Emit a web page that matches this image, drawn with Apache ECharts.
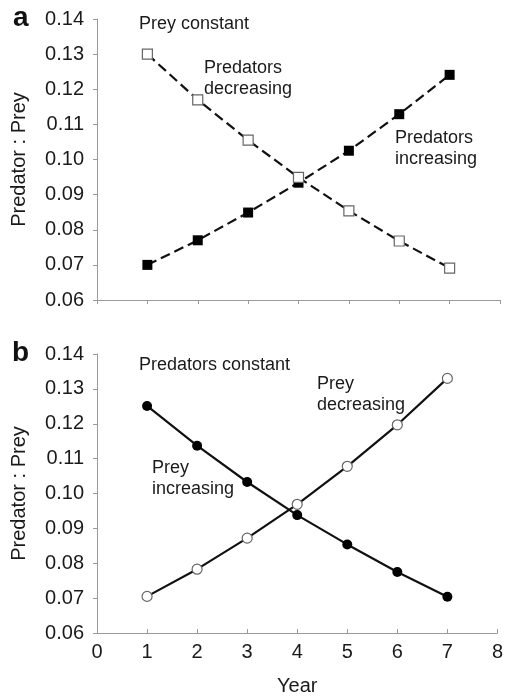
<!DOCTYPE html>
<html>
<head>
<meta charset="utf-8">
<script src="https://cdn.jsdelivr.net/npm/echarts@6/dist/echarts.min.js"></script>
<style>
html,body{margin:0;padding:0;background:#fff;}
#chart{width:506px;height:697px;}
</style>
</head>
<body>
<div id="chart"></div>
<script>
var years = [1, 2, 3, 4, 5, 6, 7];
// Panel a: prey constant
var predatorsDecreasing = [0.130, 0.117, 0.1055, 0.0949, 0.0854, 0.0768, 0.0691];
var predatorsIncreasing = [0.070, 0.077, 0.0849, 0.0934, 0.1025, 0.1129, 0.1241];
// Panel b: predators constant
var preyIncreasing = [0.1251, 0.1137, 0.1033, 0.0938, 0.0854, 0.0775, 0.0704];
var preyDecreasing = [0.0705, 0.0783, 0.0872, 0.0969, 0.1078, 0.1197, 0.1330];

var xTicks = [0, 1, 2, 3, 4, 5, 6, 7, 8];
var yTicks = ['0.06','0.07','0.08','0.09','0.10','0.11','0.12','0.13','0.14'];

function pairs(xs, ys){ return xs.map(function(x,i){ return [x, ys[i]]; }); }

var FONT = 'Liberation Sans, Arial, sans-serif';
var AX = '#9a9a9a';
var TXT = '#1a1a1a';

function xAxis(gridIndex, showLabels, tickInside){
  return {
    type:'value', gridIndex:gridIndex, min:xTicks[0], max:xTicks[xTicks.length-1], interval:1,
    axisLine:{show:true, lineStyle:{color:AX, width:1}},
    axisTick:{show:true, inside:tickInside, length:4, lineStyle:{color:AX}},
    splitLine:{show:false},
    axisLabel:{show:showLabels, color:TXT, fontSize:20, fontFamily:FONT, margin:9},
    name: showLabels ? 'Year' : '',
    nameLocation:'middle', nameGap:43,
    nameTextStyle:{color:TXT, fontSize:20, fontFamily:FONT}
  };
}
function yAxis(gridIndex){
  return {
    type:'value', gridIndex:gridIndex, min:0.06, max:0.14, interval:0.01,
    axisLine:{show:true, lineStyle:{color:AX, width:1}},
    axisTick:{show:true, inside:false, length:4, lineStyle:{color:AX}},
    splitLine:{show:false},
    axisLabel:{color:TXT, fontSize:20, fontFamily:FONT, margin:13,
      formatter:function(v){ var s=v.toFixed(2); return yTicks.indexOf(s)>=0 ? s : ''; }},
    name:'Predator : Prey', nameLocation:'middle', nameGap:68,
    nameTextStyle:{color:TXT, fontSize:20, fontFamily:FONT}
  };
}

var chart = echarts.init(document.getElementById('chart'), null, {renderer:'canvas'});
chart.setOption({
  backgroundColor:'#fff',
  animation:false,
  grid:[
    {left:97, top:19, width:403, height:281},
    {left:97, top:354, width:403, height:280}
  ],
  xAxis:[ xAxis(0,false,false), xAxis(1,true,true) ],
  yAxis:[ yAxis(0), yAxis(1) ],
  series:[
    {type:'line', xAxisIndex:0, yAxisIndex:0, data:pairs(years, predatorsIncreasing),
     symbol:'rect', symbolSize:10, lineStyle:{color:'#111', width:2.2, type:[10,5]},
     itemStyle:{color:'#000', borderColor:'#000', borderWidth:0}},
    {type:'line', xAxisIndex:0, yAxisIndex:0, data:pairs(years, predatorsDecreasing),
     symbol:'rect', symbolSize:10, lineStyle:{color:'#111', width:2.2, type:[10,5]},
     itemStyle:{color:'#fff', borderColor:'#666', borderWidth:1.2}},
    {type:'line', xAxisIndex:1, yAxisIndex:1, data:pairs(years, preyIncreasing),
     symbol:'circle', symbolSize:10, lineStyle:{color:'#111', width:2.2},
     itemStyle:{color:'#000', borderColor:'#000', borderWidth:0}},
    {type:'line', xAxisIndex:1, yAxisIndex:1, data:pairs(years, preyDecreasing),
     symbol:'circle', symbolSize:10, lineStyle:{color:'#111', width:2.2},
     itemStyle:{color:'#fff', borderColor:'#666', borderWidth:1.2}}
  ],
  graphic:[
    {type:'text', left:13, top:4, style:{text:'a', fontSize:28, fontWeight:'bold', fontFamily:FONT, fill:'#111'}},
    {type:'text', left:12, top:339, style:{text:'b', fontSize:28, fontWeight:'bold', fontFamily:FONT, fill:'#111'}},
    {type:'text', x:139, y:24, style:{text:'Prey constant', fontSize:18, fontFamily:FONT, fill:TXT, align:'left', verticalAlign:'middle'}},
    {type:'text', x:204, y:78.5, style:{text:'Predators\ndecreasing', fontSize:18, lineHeight:21, fontFamily:FONT, fill:TXT, align:'left', verticalAlign:'middle'}},
    {type:'text', x:395, y:149, style:{text:'Predators\nincreasing', fontSize:18, lineHeight:21, fontFamily:FONT, fill:TXT, align:'left', verticalAlign:'middle'}},
    {type:'text', x:139, y:365, style:{text:'Predators constant', fontSize:18, fontFamily:FONT, fill:TXT, align:'left', verticalAlign:'middle'}},
    {type:'text', x:317, y:394.5, style:{text:'Prey\ndecreasing', fontSize:18, lineHeight:21, fontFamily:FONT, fill:TXT, align:'left', verticalAlign:'middle'}},
    {type:'text', x:152, y:479, style:{text:'Prey\nincreasing', fontSize:18, lineHeight:21, fontFamily:FONT, fill:TXT, align:'left', verticalAlign:'middle'}}
  ]
});
</script>
</body>
</html>
